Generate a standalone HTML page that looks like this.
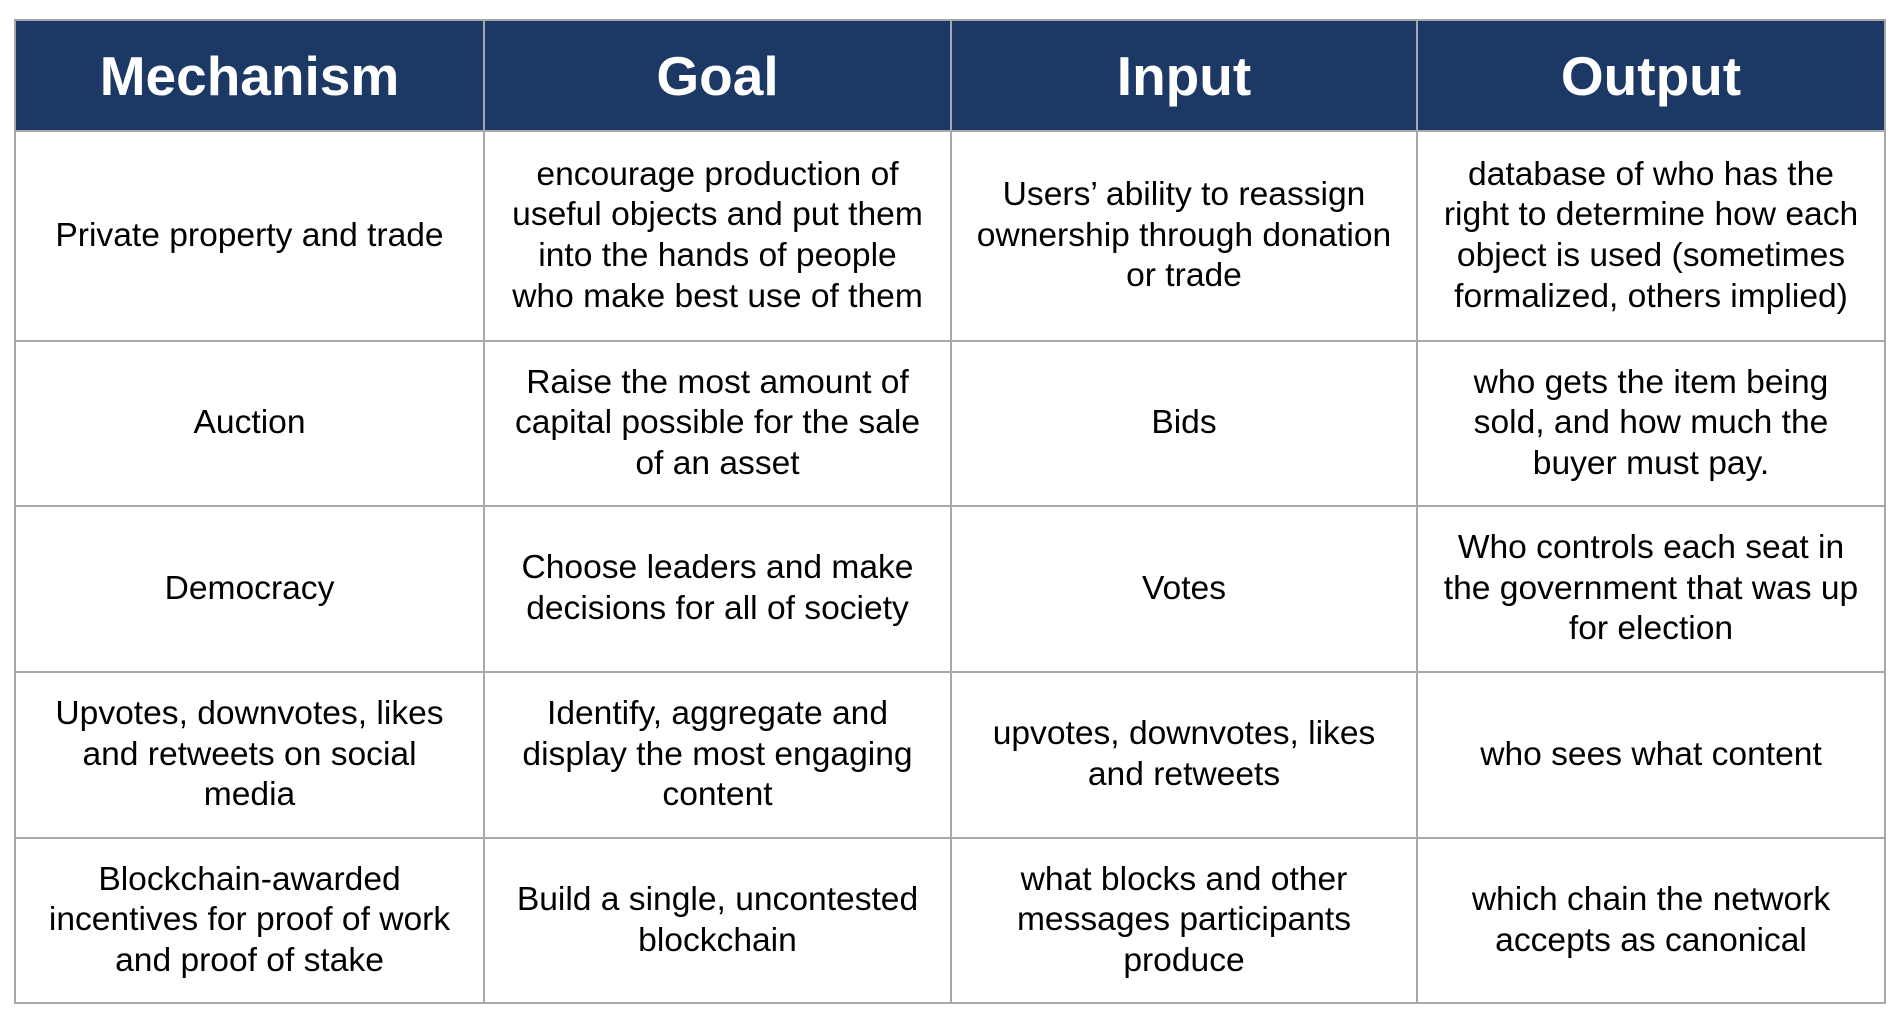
<!DOCTYPE html>
<html><head><meta charset="utf-8"><style>
html,body{margin:0;padding:0;background:#fff;width:1900px;height:1026px;overflow:hidden}
table{position:absolute;left:14px;top:19px;border-collapse:collapse;table-layout:fixed;font-family:"Liberation Sans",Arial,sans-serif}
td,th{border:2px solid #a8a8a8;text-align:center;vertical-align:middle;padding:0;color:#000;font-size:33.6px;line-height:40.6px;font-weight:normal}
th{background:#1c3864;color:#fff;font-weight:bold;font-size:55px;line-height:60px}
</style></head><body>
<table>
<colgroup><col style="width:469px"><col style="width:467px"><col style="width:466px"><col style="width:468px"></colgroup>
<tr style="height:111px"><th>Mechanism</th><th>Goal</th><th>Input</th><th>Output</th></tr>
<tr style="height:210px"><td>Private property and trade</td><td>encourage production of<br>useful objects and put them<br>into the hands of people<br>who make best use of them</td><td>Users’ ability to reassign<br>ownership through donation<br>or trade</td><td>database of who has the<br>right to determine how each<br>object is used (sometimes<br>formalized, others implied)</td></tr>
<tr style="height:165px"><td>Auction</td><td>Raise the most amount of<br>capital possible for the sale<br>of an asset</td><td>Bids</td><td>who gets the item being<br>sold, and how much the<br>buyer must pay.</td></tr>
<tr style="height:166px"><td>Democracy</td><td>Choose leaders and make<br>decisions for all of society</td><td>Votes</td><td>Who controls each seat in<br>the government that was up<br>for election</td></tr>
<tr style="height:166px"><td>Upvotes, downvotes, likes<br>and retweets on social<br>media</td><td>Identify, aggregate and<br>display the most engaging<br>content</td><td>upvotes, downvotes, likes<br>and retweets</td><td>who sees what content</td></tr>
<tr style="height:165px"><td>Blockchain-awarded<br>incentives for proof of work<br>and proof of stake</td><td>Build a single, uncontested<br>blockchain</td><td>what blocks and other<br>messages participants<br>produce</td><td>which chain the network<br>accepts as canonical</td></tr>
</table>
</body></html>
